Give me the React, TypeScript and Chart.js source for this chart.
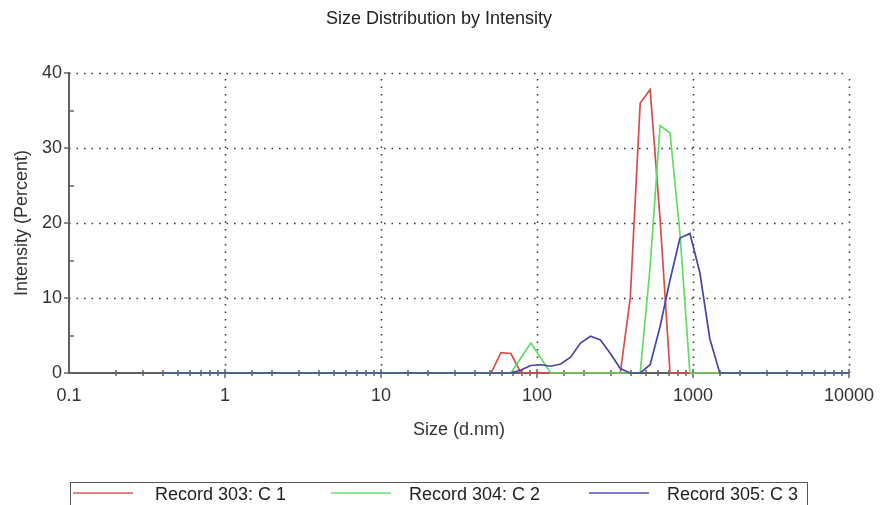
import React, { useEffect, useRef } from 'react';
import { Chart, registerables } from 'chart.js';

Chart.register(...registerables);

const FONT = '"Liberation Sans", Arial, sans-serif';

const TITLE = 'Size Distribution by Intensity';
const X_TITLE = 'Size (d.nm)';
const Y_TITLE = 'Intensity (Percent)';

// size bins (d.nm)
const SIZES = [
  0.4, 0.4632, 0.5365, 0.6213, 0.7195, 0.8332, 0.9649, 1.117, 1.294, 1.499,
  1.736, 2.01, 2.328, 2.696, 3.122, 3.615, 4.187, 4.849, 5.615, 6.503,
  7.531, 8.721, 10.1, 11.7, 13.54, 15.69, 18.17, 21.04, 24.36, 28.21,
  32.67, 37.84, 43.82, 50.75, 58.77, 68.06, 78.82, 91.28, 105.7, 122.4,
  141.8, 164.2, 190.1, 220.2, 255.0, 295.3, 342.0, 396.1, 458.7, 531.2,
  615.1, 712.4, 825.0, 955.4, 1106, 1281, 1484, 1718, 1990, 2305,
  2669, 3091, 3580, 4145, 4801, 5560, 6439, 7456, 8635, 10000,
];

const RECORD_303 = [
  0, 0, 0, 0, 0, 0, 0, 0, 0, 0,
  0, 0, 0, 0, 0, 0, 0, 0, 0, 0,
  0, 0, 0, 0, 0, 0, 0, 0, 0, 0,
  0, 0, 0, 0, 2.7, 2.6, 0, 0, 0, 0,
  0, 0, 0, 0, 0, 0, 0, 10.0, 36.0, 37.8,
  20.5, 0, 0, 0, 0, 0, 0, 0, 0, 0,
  0, 0, 0, 0, 0, 0, 0, 0, 0, 0,
];

const RECORD_304 = [
  0, 0, 0, 0, 0, 0, 0, 0, 0, 0,
  0, 0, 0, 0, 0, 0, 0, 0, 0, 0,
  0, 0, 0, 0, 0, 0, 0, 0, 0, 0,
  0, 0, 0, 0, 0, 0, 2.0, 4.0, 2.0, 0,
  0, 0, 0, 0, 0, 0, 0, 0, 0, 14.2,
  33.0, 32.0, 18.6, 0, 0, 0, 0, 0, 0, 0,
  0, 0, 0, 0, 0, 0, 0, 0, 0, 0,
];

const RECORD_305 = [
  0, 0, 0, 0, 0, 0, 0, 0, 0, 0,
  0, 0, 0, 0, 0, 0, 0, 0, 0, 0,
  0, 0, 0, 0, 0, 0, 0, 0, 0, 0,
  0, 0, 0, 0, 0, 0, 0.4, 1.0, 1.1, 0.9,
  1.2, 2.1, 4.0, 4.9, 4.4, 2.6, 0.6, 0, 0, 1.1,
  6.2, 12.4, 18.0, 18.6, 13.4, 4.6, 0, 0, 0, 0,
  0, 0, 0, 0, 0, 0, 0, 0, 0, 0,
];

const SERIES_NAMES = ['Record 303: C 1', 'Record 304: C 2', 'Record 305: C 3'];
const SERIES_COLORS = ['#d94c4c', '#62dc62', '#4646a6'];

const X_TICK_VALUES = [0.1, 1, 10, 100, 1000, 10000];
const X_TICK_LABELS = ['0.1', '1', '10', '100', '1000', '10000'];
const Y_MAJOR = [0, 10, 20, 30, 40];
const Y_MINOR = [5, 15, 25, 35];

const isMajorX = (v: number) => X_TICK_VALUES.some((m) => Math.abs(Math.log10(v) - Math.log10(m)) < 1e-6);

const framePlugin = {
  id: 'dlsFrame',
  beforeDatasetsDraw(chart: any) {
    const { ctx, chartArea } = chart;
    const xs = chart.scales.x;
    const ys = chart.scales.y;
    const L = chartArea.left;
    const B = chartArea.bottom;
    const T = chartArea.top;
    const R = chartArea.right;
    ctx.save();
    // dotted grid
    ctx.strokeStyle = '#3a3a3a';
    ctx.lineWidth = 1.6;
    ctx.setLineDash([1.6, 5.9]);
    X_TICK_VALUES.slice(1).forEach((v) => {
      const px = Math.round(xs.getPixelForValue(v)) + 0.5;
      ctx.beginPath();
      ctx.moveTo(px, B);
      ctx.lineTo(px, T);
      ctx.stroke();
    });
    Y_MAJOR.slice(1).forEach((v) => {
      const py = Math.round(ys.getPixelForValue(v)) + 0.5;
      ctx.beginPath();
      ctx.moveTo(L, py);
      ctx.lineTo(R, py);
      ctx.stroke();
    });
    ctx.setLineDash([]);
    // axes
    ctx.strokeStyle = '#606060';
    ctx.lineWidth = 2;
    ctx.beginPath();
    ctx.moveTo(L, T - 1);
    ctx.lineTo(L, B);
    ctx.lineTo(R, B);
    ctx.stroke();
    // tick marks
    ctx.lineWidth = 1.5;
    Y_MAJOR.forEach((v) => {
      const py = Math.round(ys.getPixelForValue(v));
      ctx.beginPath();
      ctx.moveTo(L - 5, py);
      ctx.lineTo(L, py);
      ctx.stroke();
    });
    Y_MINOR.forEach((v) => {
      const py = Math.round(ys.getPixelForValue(v));
      ctx.beginPath();
      ctx.moveTo(L, py);
      ctx.lineTo(L + 5, py);
      ctx.stroke();
    });
    xs.ticks.forEach((t: any) => {
      if (t.value <= 0.1 + 1e-9) return;
      const px = Math.round(xs.getPixelForValue(t.value));
      const major = isMajorX(t.value);
      ctx.beginPath();
      ctx.moveTo(px, B - (major ? 4 : 3));
      ctx.lineTo(px, B + (major ? 5 : 3));
      ctx.stroke();
    });
    ctx.restore();
  },
  afterDraw(chart: any) {
    const { ctx } = chart;
    ctx.save();
    ctx.font = `18px ${FONT}`;
    ctx.fillStyle = '#222';
    ctx.textAlign = 'center';
    ctx.textBaseline = 'middle';
    ctx.fillText(TITLE, 439, 19);
    ctx.restore();
  },
};

export default function App() {
  const canvasRef = useRef<HTMLCanvasElement | null>(null);

  useEffect(() => {
    if (!canvasRef.current) return;
    const values = [RECORD_303, RECORD_304, RECORD_305];
    const orders = [3, 2, 1];
    const chart = new Chart(canvasRef.current, {
      type: 'line',
      data: {
        datasets: values.map((vals, i) => ({
          label: SERIES_NAMES[i],
          data: SIZES.map((s, k) => ({ x: s, y: vals[k] })),
          borderColor: SERIES_COLORS[i],
          backgroundColor: SERIES_COLORS[i],
          borderWidth: 1.7,
          pointRadius: 0,
          tension: 0,
          fill: false,
          clip: 6,
          order: orders[i],
        })),
      },
      options: {
        animation: false,
        responsive: false,
        maintainAspectRatio: false,
        layout: { padding: { top: 73, right: 34, bottom: 62, left: 0 } },
        plugins: {
          legend: { display: false },
          title: { display: false },
          tooltip: { enabled: false },
        },
        scales: {
          x: {
            type: 'logarithmic',
            min: 0.1,
            max: 10000,
            afterFit: (s: any) => {
              s.height = 70;
              s.paddingLeft = 0;
              s.paddingRight = 0;
            },
            grid: { display: false, drawTicks: false },
            border: { display: false },
            ticks: {
              autoSkip: false,
              maxRotation: 0,
              minRotation: 0,
              padding: 12,
              color: '#333',
              font: { family: FONT, size: 18 },
              callback: (v: any) => {
                const idx = X_TICK_VALUES.findIndex((m) => Math.abs(Math.log10(Number(v)) - Math.log10(m)) < 1e-6);
                return idx >= 0 ? X_TICK_LABELS[idx] : '';
              },
            },
            title: {
              display: true,
              text: X_TITLE,
              color: '#333',
              font: { family: FONT, size: 18 },
              padding: { top: 0, bottom: 2 },
            },
          },
          y: {
            type: 'linear',
            min: 0,
            max: 40,
            afterFit: (s: any) => {
              s.width = 69;
            },
            grid: { display: false, drawTicks: false },
            border: { display: false },
            ticks: {
              stepSize: 10,
              padding: 7,
              color: '#333',
              font: { family: FONT, size: 18 },
            },
            title: {
              display: true,
              text: Y_TITLE,
              color: '#333',
              font: { family: FONT, size: 18 },
              padding: { top: 11, bottom: 0 },
            },
          },
        },
      },
      plugins: [framePlugin],
    } as any);
    return () => chart.destroy();
  }, []);

  const legendItems = [
    { line: 73, text: 155 },
    { line: 331, text: 409 },
    { line: 589, text: 667 },
  ];

  return (
    <div style={{ position: 'absolute', left: 0, top: 0, width: 883, height: 505, overflow: 'hidden', background: '#fff' }}>
      <canvas ref={canvasRef} width={883} height={505} style={{ width: 883, height: 505, display: 'block' }} />
      <div
        style={{
          position: 'absolute',
          left: 70,
          top: 482,
          width: 738,
          height: 40,
          border: '1px solid #555',
          boxSizing: 'border-box',
        }}
      />
      {legendItems.map((it, i) => (
        <React.Fragment key={SERIES_NAMES[i]}>
          <div
            style={{
              position: 'absolute',
              left: it.line,
              top: 492,
              width: 60,
              height: 2,
              background: SERIES_COLORS[i],
              opacity: 0.7,
            }}
          />
          <div
            style={{
              position: 'absolute',
              left: it.text,
              top: 483,
              fontFamily: FONT,
              fontSize: 18,
              lineHeight: '22px',
              color: '#222',
              whiteSpace: 'nowrap',
            }}
          >
            {SERIES_NAMES[i]}
          </div>
        </React.Fragment>
      ))}
    </div>
  );
}
